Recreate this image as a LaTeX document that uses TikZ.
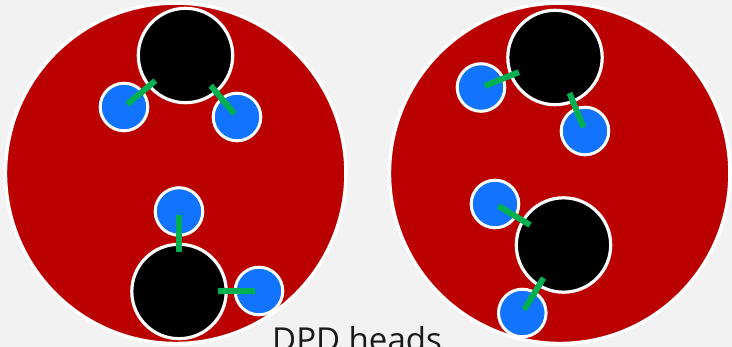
\documentclass[tikz,border=0pt]{standalone}
\usepackage{fontspec}
\setmainfont{Open Sans}
\usetikzlibrary{calc}
\definecolor{bgGray}{HTML}{F2F2F2}
\definecolor{dropRed}{HTML}{BB0000}
\definecolor{beadBlue}{HTML}{1273FF}
\definecolor{bondGreen}{HTML}{00B050}
\definecolor{labelInk}{HTML}{1A1A1A}
\tikzset{
  droplet/.style={circle, fill=dropRed, draw=white, line width=3.5pt, minimum size=340.5pt, inner sep=0pt},
  headbead/.style={circle, fill=black, draw=white, line width=3.2pt, minimum size=94.4pt, inner sep=0pt},
  tailbead/.style={circle, fill=beadBlue, draw=white, line width=3pt, minimum size=47.6pt, inner sep=0pt},
  bond/.style={draw=bondGreen, line width=6pt, line cap=butt},
}
% bond from a tail bead towards its head bead
\newcommand{\bondline}[2]{\draw[bond] ($(#1.center)!4pt!(#2.center)$) -- ($(#1.center)!41pt!(#2.center)$);}
\begin{document}
\begin{tikzpicture}[x=1pt, y=-1pt]
  \useasboundingbox (0,0) rectangle (732,347);
  \clip (0,0) rectangle (732,347);
  \fill[bgGray] (0,0) rectangle (732,347);

  % two droplets
  \node[droplet] (dropL) at (175.7,173.3) {};
  \node[droplet] (dropR) at (559.7,173.3) {};

  % left droplet: upper molecule
  \node[headbead] (hL1) at (185.5,55.5) {};
  \node[tailbead] (tL1a) at (124,107) {};
  \node[tailbead] (tL1b) at (237,117) {};
  % left droplet: lower molecule
  \node[headbead] (hL2) at (179,291.5) {};
  \node[tailbead] (tL2a) at (179,211.5) {};
  \node[tailbead] (tL2b) at (259,291) {};

  % right droplet: upper molecule
  \node[headbead] (hR1) at (555,57.5) {};
  \node[tailbead] (tR1a) at (481,87.5) {};
  \node[tailbead] (tR1b) at (585,131) {};
  % right droplet: lower molecule
  \node[headbead] (hR2) at (563.5,245) {};
  \node[tailbead] (tR2a) at (495,204) {};
  \node[tailbead] (tR2b) at (522.3,313) {};

  % bonds
  \bondline{tL1a}{hL1}
  \bondline{tL1b}{hL1}
  \bondline{tL2a}{hL2}
  \bondline{tL2b}{hL2}
  \bondline{tR1a}{hR1}
  \bondline{tR1b}{hR1}
  \bondline{tR2a}{hR2}
  \bondline{tR2b}{hR2}

  % caption
  \node[anchor=base west, inner sep=0pt, text=labelInk, font=\fontsize{33}{40}\selectfont] (caption) at (272,352) {DPD heads};
\end{tikzpicture}
\end{document}
